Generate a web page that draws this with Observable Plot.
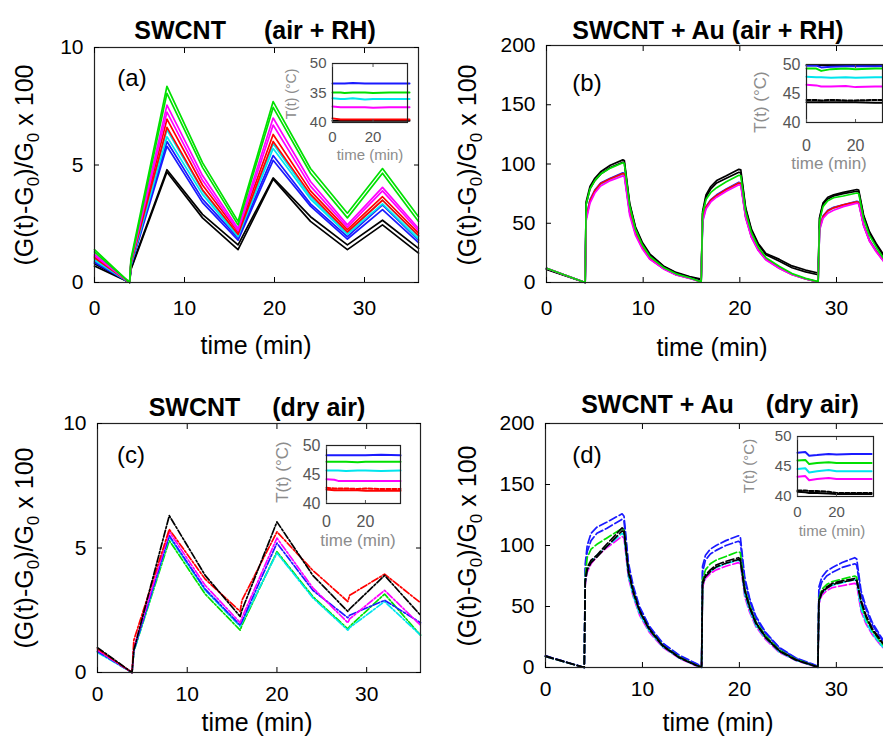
<!DOCTYPE html>
<html><head><meta charset="utf-8">
<script src="https://cdn.jsdelivr.net/npm/d3@7"></script>
<script src="https://cdn.jsdelivr.net/npm/@observablehq/plot@0.6"></script>
<style>
html,body{margin:0;padding:0;background:#fff;overflow:hidden;width:883px;height:745px;}
#root{position:relative;width:883px;height:745px;overflow:hidden;font-family:Arial,"Liberation Sans",sans-serif;color:#000;}
.lbl{position:absolute;white-space:pre;line-height:1;}
sub{font-size:0.68em;vertical-align:-0.3em;}
</style></head><body><div id="root"></div><script>
// ---------- tick values ----------
const xTicks = [0, 10, 20, 30];
const yTicksSmall = [0, 5, 10];
const yTicksLarge = [0, 50, 100, 150, 200];
const insetXTicks = [0, 20];
const insetYTicks = [40, 45, 50];
const insetYLabelsA = ["40", "35", "50"];
const insetYLabels = ["40", "45", "50"];

// ---------- titles ----------
const titleLeft = ["SWCNT", "SWCNT + Au", "SWCNT", "SWCNT + Au"];
const titleRight = ["(air + RH)", "(air + RH)", "(dry air)", "(dry air)"];
const panelLetters = ["(a)", "(b)", "(c)", "(d)"];

// ---------- panel (a) ----------
const timesA = [0, 3.9, 4.05, 8.05, 12, 15.95, 19.85, 24, 28.1, 32, 36];
const aGreen1 = [1.40, 0, 1.00, 8.35, 5.10, 2.60, 7.70, 4.85, 2.95, 4.85, 2.80];
const aGreen2 = [1.30, 0, 0.90, 8.05, 4.90, 2.45, 7.45, 4.65, 2.75, 4.65, 2.60];
const aMagenta1 = [1.20, 0, 0.90, 7.55, 4.55, 2.30, 7.00, 4.30, 2.45, 4.05, 2.30];
const aMagenta2 = [1.15, 0, 0.85, 7.25, 4.35, 2.20, 6.70, 4.10, 2.35, 3.90, 2.20];
const aRed1 = [1.10, 0, 0.85, 6.95, 4.15, 2.15, 6.30, 3.90, 2.25, 3.65, 2.10];
const aRed2 = [1.05, 0, 0.80, 6.60, 3.95, 2.05, 6.00, 3.75, 2.15, 3.50, 2.00];
const aCyan1 = [1.00, 0, 0.80, 6.50, 3.90, 2.00, 5.90, 3.65, 2.10, 3.50, 1.95];
const aCyan2 = [0.95, 0, 0.75, 6.20, 3.75, 1.95, 5.70, 3.55, 2.05, 3.35, 1.85];
const aBlue1 = [0.90, 0, 0.75, 6.00, 3.55, 1.90, 5.40, 3.35, 1.95, 3.30, 1.80];
const aBlue2 = [0.85, 0, 0.70, 5.80, 3.40, 1.80, 5.20, 3.25, 1.85, 3.10, 1.70];
const aBlack1 = [0.80, 0, 0.60, 4.80, 2.90, 1.60, 4.45, 2.80, 1.60, 2.65, 1.45];
const aBlack2 = [0.70, 0, 0.55, 4.70, 2.75, 1.40, 4.40, 2.60, 1.40, 2.45, 1.25];

// ---------- panel (b) ----------
const timesB = [0, 4.0, 4.1, 4.5, 5, 5.6, 6.6, 7.9, 8.05, 8.6, 9.2, 9.9, 10.7, 12.1, 13.4, 14.8, 16.0,
  16.15, 16.5, 17, 17.6, 18.6, 19.9, 20.1, 20.6, 21.2, 21.9, 22.7, 24.1, 25.4, 26.8, 28.1,
  28.25, 28.6, 29.1, 29.7, 30.7, 32.1, 32.3, 32.8, 33.4, 34.1, 34.9, 36];
const bBlack1 = [11.5, 0, 68, 81, 88, 93.5, 99, 103.5, 103, 67, 47, 34, 24, 14, 8.5, 5, 2.8,
  60, 74, 81, 86, 90, 95.5, 95, 63, 45, 33, 24.5, 19.5, 14, 10.5, 8,
  55, 67, 72, 74, 76, 78.5, 78, 57, 43, 33, 23, 16];
const bBlack2 = [11, 0, 66, 79, 86, 91.5, 97, 101.5, 101, 66, 46, 33, 23, 13.5, 8, 4.5, 2,
  58, 72, 79, 84, 88, 93, 92.5, 62, 44, 32, 23.5, 18, 12.5, 9, 6.5,
  54, 66, 70.5, 73, 75, 77, 76.5, 56, 42, 32, 22, 15];
const bBlue = [12, 0, 55, 70, 78, 84, 88, 92.5, 92, 60, 42, 30, 20.5, 12, 6.8, 3.8, 0.8,
  53, 64, 70, 74, 79, 84.5, 84, 56, 39, 28, 20, 12.5, 7, 3.2, 0.5,
  46, 56, 61, 63.5, 65.5, 68.5, 68, 49, 36, 27, 18.5, 11];
const bCyan = [12, 0, 54, 69, 77, 83, 87, 91.5, 91, 59, 41.5, 29.5, 20, 11.8, 6.6, 3.6, 0.6,
  52, 63, 69, 73, 78, 84, 83.5, 55.5, 38.5, 27.5, 19.5, 12, 6.8, 3, 0.4,
  45, 55, 60, 63, 65, 68, 67.5, 48.5, 35.5, 26.5, 18, 10.5];
const bRed = [12, 0, 54, 69, 77.5, 83.5, 87.5, 92, 91.5, 59.5, 41.5, 29.5, 20, 11.8, 6.6, 3.6, 0.6,
  54, 63.5, 69.5, 73.5, 78.5, 84, 83.5, 55.5, 38.5, 27.5, 19.5, 12, 6.8, 3, 0.4,
  45.5, 55.5, 60.5, 63, 65.5, 68, 67.5, 48.5, 35.5, 26.5, 18, 10.5];
const bMagenta = [12, 0, 52, 67, 75.5, 81.5, 86, 90, 89.5, 57, 40, 28.5, 19.5, 11.5, 6.4, 3.4, 0.5,
  51, 62, 68, 72, 77, 82.5, 82, 54.5, 38, 27, 19, 11.8, 6.6, 3, 0.4,
  44, 54, 58.5, 61, 64, 67, 66.5, 48, 35, 26, 17.5, 10];
const bGreen = [12, 0, 66, 79, 86, 91.5, 96.5, 101, 100.5, 65, 45, 32, 22, 12.7, 7.3, 4, 0.5,
  58, 70, 76, 80, 85, 90.5, 90, 60, 42, 30, 21, 13.5, 7.5, 3.5, 0.8,
  52, 64, 69, 71.5, 73, 75.5, 75, 54, 40, 30, 20, 12];

// ---------- panel (c) ----------
const timesC = [0, 3.85, 4.05, 8, 12, 15.9, 16.1, 20, 24, 27.9, 28.1, 32, 36];
const cGreen = [0.85, 0, 0.85, 5.30, 3.15, 1.70, 1.90, 4.85, 3.05, 1.75, 1.85, 3.15, 1.50];
const cCyan = [0.80, 0, 0.85, 5.45, 3.30, 1.85, 2.00, 4.80, 3.00, 1.70, 1.80, 2.85, 1.50];
const cBlue = [0.85, 0, 0.90, 5.50, 3.35, 1.90, 2.05, 5.20, 3.30, 2.20, 2.30, 2.90, 2.00];
const cMagenta = [0.90, 0, 1.00, 5.65, 3.50, 2.00, 2.20, 5.40, 3.40, 2.00, 2.15, 3.30, 1.90];
const cRed = [0.95, 0, 1.30, 5.75, 3.75, 2.45, 2.90, 5.65, 4.10, 2.85, 3.10, 3.95, 2.80];
const cBlack = [1.00, 0, 0.90, 6.30, 3.90, 2.25, 2.50, 6.05, 3.90, 2.45, 2.55, 3.90, 2.30];

// ---------- panel (d) ----------
const timesD = [0, 4.0, 4.1, 4.3, 4.7, 5.3, 6.3, 7.9, 8.1, 8.55, 9.05, 9.7, 10.7, 12.1, 13.8, 15.5, 16.1,
  16.2, 16.5, 17, 17.6, 18.6, 19.9, 20.1, 20.55, 21.05, 21.7, 22.7, 24.1, 25.8, 27.5, 28.1,
  28.2, 28.5, 29, 29.6, 30.6, 31.9, 32.1, 32.55, 33.05, 33.7, 34.7, 36];
const dBlue1 = [9.5, 0, 85, 100, 110, 115, 119, 126, 124, 86, 67, 50, 34, 20, 10, 3.5, 1,
  83, 92, 97, 100, 104, 108, 107, 74, 57, 42, 29, 16.5, 8, 3, 1,
  66, 74, 79, 82, 86, 90, 89, 63, 50, 37, 24, 14];
const dBlue2 = [9.5, 0, 80, 95, 104, 110, 114, 121.5, 120, 83, 65, 48.5, 33, 19.5, 9.5, 3, 0.8,
  78, 88, 93, 96, 100, 103.5, 102.5, 71, 55, 40.5, 28, 16, 7.5, 2.5, 0.8,
  62, 70, 75, 78, 82, 85, 84, 60, 48, 35, 23, 13];
const dMagenta = [9, 0, 68, 78, 85, 91, 98, 107.5, 106, 74, 58, 43, 29, 16.5, 7.5, 1.5, 0,
  66, 73, 77, 80, 83, 86, 85, 58, 45.5, 33.5, 23, 12.5, 5.8, 1.5, 0,
  52, 59, 63, 65.5, 67, 69, 68, 46, 36, 27, 17, 9.5];
const dCyan = [9, 0, 70, 80, 87, 92, 99, 110, 108.5, 75, 59, 44, 30, 17, 7.8, 1.7, 0,
  68, 75, 79, 82, 85, 88, 87, 60, 47, 34.5, 24, 13, 6, 1.7, 0,
  53, 61, 65, 67.5, 69.5, 72, 71, 48, 37.5, 28, 17.5, 10];
const dGreen = [9, 0, 75, 90, 97, 101, 106, 114, 112.5, 79, 62, 46, 31.5, 18, 8.5, 2, 0.3,
  72, 80, 85, 88, 91, 95, 94, 65, 51, 37.5, 26, 14.5, 6.8, 2, 0.3,
  56, 64, 68, 70.5, 72.5, 75, 74, 51, 40, 30, 19, 11];
const dBlack1 = [9.5, 0, 72, 82, 88, 92, 101, 114.5, 113, 80, 63, 47, 32, 18, 8.4, 2, 0.3,
  70, 76, 80, 84, 87, 90, 89, 64, 50, 37, 25, 14, 6.5, 2, 0.3,
  55, 62, 66, 69, 71, 73, 72, 55, 43, 32, 21, 12];
const dBlack2 = [9, 0, 70, 80, 86, 90.5, 99, 112, 111, 78, 61.5, 46, 31, 17.5, 8, 1.8, 0.2,
  68, 74.5, 78.5, 82.5, 85.5, 88.5, 87.5, 62.5, 49, 36, 24.5, 13.5, 6.2, 1.8, 0.2,
  54, 61, 65, 68, 70, 72, 71, 54, 42, 31, 20.5, 11.5];

// ---------- insets: temperature T(t) ----------
const insetTimes = [0, 4, 6, 10, 16, 20, 28, 38];
const iaBlue = [46.6, 46.6, 46.6, 46.7, 46.6, 46.6, 46.6, 46.6];
const iaGreen = [45.1, 45.1, 45.0, 45.1, 45.1, 45.0, 45.1, 45.1];
const iaCyan = [44.1, 44.0, 44.0, 44.1, 43.9, 44.0, 44.0, 44.0];
const iaMagenta = [42.7, 42.6, 42.6, 42.6, 42.6, 42.5, 42.6, 42.6];
const iaRed = [40.7, 40.5, 40.5, 40.5, 40.5, 40.5, 40.5, 40.5];
const iaBlack = [40.3, 40.3, 40.3, 40.3, 40.3, 40.3, 40.3, 40.3];

const ibBlack1 = [49.9, 49.9, 49.9, 49.9, 49.9, 49.9, 49.9, 49.9];
const ibBlue = [49.8, 49.8, 49.5, 49.6, 49.7, 49.7, 49.7, 49.8];
const ibGreen = [49.3, 49.3, 48.9, 49.2, 49.3, 49.2, 49.3, 49.3];
const ibCyan = [47.9, 47.8, 47.8, 47.7, 47.8, 47.7, 47.8, 47.8];
const ibMagenta = [46.5, 46.4, 46.2, 46.2, 46.3, 46.1, 46.2, 46.2];
const ibBlack2 = [43.9, 43.9, 43.8, 43.9, 43.8, 43.8, 43.9, 43.8];
const ibBlack3 = [43.5, 43.5, 43.5, 43.5, 43.5, 43.5, 43.4, 43.4];

const icBlue = [48.3, 48.3, 48.3, 48.3, 48.3, 48.3, 48.4, 48.3];
const icGreen = [47.2, 47.2, 47.2, 47.2, 47.1, 47.2, 47.2, 47.2];
const icCyan = [45.7, 45.7, 45.7, 45.6, 45.7, 45.7, 45.6, 45.7];
const icMagenta = [44.2, 44.1, 43.9, 43.9, 43.9, 43.9, 43.9, 43.9];
const icRed1 = [42.7, 42.6, 42.6, 42.6, 42.5, 42.6, 42.5, 42.5];
const icRed2 = [42.4, 42.3, 42.3, 42.3, 42.3, 42.2, 42.2, 42.2];

const idBlue = [47.3, 47.4, 46.8, 46.9, 47.1, 47.0, 47.1, 47.1];
const idGreen = [46.0, 46.1, 45.4, 45.6, 45.7, 45.6, 45.6, 45.6];
const idCyan = [44.6, 44.7, 44.0, 44.2, 44.4, 44.2, 44.2, 44.2];
const idMagenta = [43.3, 43.4, 42.7, 42.9, 43.1, 42.9, 42.9, 42.9];
const idBlack1 = [41.0, 41.0, 40.9, 40.9, 40.8, 40.6, 40.6, 40.6];
const idBlack2 = [40.8, 40.7, 40.6, 40.6, 40.5, 40.4, 40.4, 40.4];

// ---------- colours ----------
const C = {k: "#000000", b: "#1a1aff", g: "#00e000", c: "#00e5ee", m: "#ff00ff", r: "#ff0000"};
const FONT = 'Arial, "Liberation Sans", sans-serif';
const root = document.getElementById("root");

function place(node, left, top) {
  node.style.position = "absolute";
  node.style.left = left + "px";
  node.style.top = top + "px";
  root.appendChild(node);
}
function label(html, cx, cy, opts = {}) {
  const d = document.createElement("div");
  d.className = "lbl";
  d.innerHTML = html;
  d.style.left = cx + "px";
  d.style.top = cy + "px";
  d.style.fontSize = (opts.size || 25) + "px";
  if (opts.bold) d.style.fontWeight = "bold";
  if (opts.color) d.style.color = opts.color;
  d.style.transform = "translate(-50%,-50%)" + (opts.rotate ? " rotate(-90deg)" : "");
  root.appendChild(d);
}
function lineMarks(times, series, width, dash) {
  return series.map(s => Plot.line(times.map((t, j) => ({t, v: s.values[j]})),
    {x: "t", y: "v", stroke: s.color, strokeWidth: width, strokeDasharray: s.dash || dash}));
}

function mainPanel(o) {
  return Plot.plot({
    width: o.width, height: o.height,
    marginTop: o.mt, marginBottom: o.mb, marginLeft: o.ml, marginRight: o.mr,
    x: {domain: [0, 36]}, y: {domain: o.yDomain},
    style: {fontFamily: FONT, fontSize: "21px", color: "#000", background: "transparent", overflow: "visible"},
    marks: [
      ...lineMarks(o.times, o.series, 1.7, o.dash),
      Plot.frame({stroke: "#222", strokeWidth: 1.2}),
      Plot.axisX(xTicks, {anchor: "bottom", tickSize: 0, tickPadding: o.xPad, fontSize: 21, label: null}),
      Plot.axisX(xTicks, {anchor: "bottom", tickSize: -5, tickFormat: () => "", label: null}),
      Plot.axisX(xTicks, {anchor: "top", tickSize: -5, tickFormat: () => "", label: null}),
      Plot.axisY(o.yTicks, {anchor: "left", tickSize: 0, tickPadding: 11, fontSize: 21, label: null}),
      Plot.axisY(o.yTicks, {anchor: "left", tickSize: -5, tickFormat: () => "", label: null}),
      Plot.axisY(o.yTicks, {anchor: "right", tickSize: -5, tickFormat: () => "", label: null})
    ]
  });
}

function insetPanel(o) {
  return Plot.plot({
    width: 45 + o.fw + 4, height: 6 + o.fh + 30,
    marginTop: 6, marginBottom: 30, marginLeft: 45, marginRight: 4,
    x: {domain: [0, o.xMax]}, y: {domain: [40, 50]},
    style: {fontFamily: FONT, fontSize: "15px", color: "#555", background: "transparent", overflow: "visible"},
    marks: [
      Plot.frame({fill: "white", stroke: "none"}),
      ...lineMarks(insetTimes, o.series, 2, o.dash),
      Plot.frame({stroke: "#222", strokeWidth: 1.2}),
      Plot.axisX(insetXTicks, {anchor: "bottom", tickSize: 0, tickPadding: o.xPad, fontSize: o.tickFont, label: null}),
      Plot.axisX(insetXTicks, {anchor: "bottom", tickSize: -3, tickFormat: () => "", label: null}),
      Plot.axisX(insetXTicks, {anchor: "top", tickSize: -3, tickFormat: () => "", label: null}),
      Plot.axisY(insetYTicks, {anchor: "left", tickSize: 0, tickPadding: 6, fontSize: o.tickFont, label: null,
        tickFormat: v => o.yLabels[insetYTicks.indexOf(v)]})
    ]
  });
}

// ---------- main panels ----------
place(mainPanel({width: 430, height: 330, mt: 47, mb: 48, ml: 94, mr: 12, yDomain: [0, 10], yTicks: yTicksSmall, xPad: 18,
  times: timesA, series: [
    {values: aBlack1, color: C.k}, {values: aBlack2, color: C.k},
    {values: aBlue1, color: C.b}, {values: aBlue2, color: C.b},
    {values: aCyan1, color: C.c}, {values: aCyan2, color: C.c},
    {values: aRed1, color: C.r}, {values: aRed2, color: C.r},
    {values: aMagenta1, color: C.m}, {values: aMagenta2, color: C.m},
    {values: aGreen1, color: C.g}, {values: aGreen2, color: C.g}]}), 0, 0);

place(mainPanel({width: 460, height: 330, mt: 45, mb: 48, ml: 106, mr: 6, yDomain: [0, 200], yTicks: yTicksLarge, xPad: 18,
  times: timesB, series: [
    {values: bBlack1, color: C.k}, {values: bBlack2, color: C.k},
    {values: bBlue, color: C.b}, {values: bCyan, color: C.c},
    {values: bRed, color: C.r}, {values: bMagenta, color: C.m},
    {values: bGreen, color: C.g}]}), 440, 0);

place(mainPanel({width: 430, height: 330, mt: 48, mb: 33, ml: 97, mr: 10, yDomain: [0, 10], yTicks: yTicksSmall, xPad: 14,
  dash: "7,2,2,2",
  times: timesC, series: [
    {values: cGreen, color: C.g}, {values: cCyan, color: C.c},
    {values: cBlue, color: C.b}, {values: cMagenta, color: C.m},
    {values: cRed, color: C.r}, {values: cBlack, color: C.k}]}), 0, 375);

place(mainPanel({width: 460, height: 330, mt: 48, mb: 38, ml: 105, mr: 6, yDomain: [0, 200], yTicks: yTicksLarge, xPad: 14,
  dash: "8,3",
  times: timesD, series: [
    {values: dBlue1, color: C.b}, {values: dBlue2, color: C.b},
    {values: dGreen, color: C.g}, {values: dMagenta, color: C.m},
    {values: dCyan, color: C.c}, {values: dBlack2, color: C.k},
    {values: dBlack1, color: C.k}]}), 440, 375);

// ---------- insets ----------
place(insetPanel({fw: 75, fh: 59, xMax: 37, xPad: 9, tickFont: 15, yLabels: insetYLabelsA,
  series: [{values: iaBlack, color: C.k}, {values: iaRed, color: C.r}, {values: iaMagenta, color: C.m},
    {values: iaCyan, color: C.c}, {values: iaGreen, color: C.g}, {values: iaBlue, color: C.b}]}), 332 - 45, 63 - 6);

place(insetPanel({fw: 76, fh: 58, xMax: 31, xPad: 17, tickFont: 16, yLabels: insetYLabels,
  series: [{values: ibBlack2, color: C.k, dash: "4,2"}, {values: ibBlack3, color: C.k}, {values: ibMagenta, color: C.m},
    {values: ibCyan, color: C.c}, {values: ibBlack1, color: C.k}, {values: ibBlue, color: C.b}, {values: ibGreen, color: C.g}]}), 806 - 45, 64 - 6);

place(insetPanel({fw: 74, fh: 58, xMax: 38, xPad: 12, tickFont: 16, yLabels: insetYLabels,
  series: [{values: icRed1, color: C.r, dash: "4,2"}, {values: icRed2, color: C.r}, {values: icMagenta, color: C.m},
    {values: icCyan, color: C.c}, {values: icGreen, color: C.g}, {values: icBlue, color: C.b}]}), 326 - 45, 445 - 6);

place(insetPanel({fw: 76, fh: 60, xMax: 39, xPad: 10, tickFont: 15, yLabels: insetYLabels,
  series: [{values: idBlack1, color: C.k, dash: "4,2"}, {values: idBlack2, color: C.k}, {values: idMagenta, color: C.m},
    {values: idCyan, color: C.c}, {values: idGreen, color: C.g}, {values: idBlue, color: C.b}]}), 797 - 45, 436 - 6);

// ---------- text ----------
const yLab = "(G(t)-G<sub>0</sub>)/G<sub>0</sub> x 100";
const titleGaps = [38, 7, 32, 32];
const titlePos = [[255, 30], [708, 30], [257, 407], [720, 404]];
titlePos.forEach(([x, y], i) => label(`${titleLeft[i]}<span style="margin-left:${titleGaps[i]}px">${titleRight[i]}</span>`, x, y, {size: 25, bold: true}));
[[132, 78], [587, 83], [131, 455], [587, 455]].forEach(([x, y], i) => label(panelLetters[i], x, y, {size: 24}));
[[27, 165], [470, 165], [27, 548], [470, 546]].forEach(([x, y]) => label(yLab, x, y, {size: 25, rotate: true}));
[[256, 345], [712, 347], [257, 722], [718, 722]].forEach(([x, y]) => label("time (min)", x, y, {size: 25}));
// inset labels
const gray = "#8c8c8c";
[[291, 94, 14], [760, 102, 17], [282, 472, 17], [748, 466, 15]].forEach(([x, y, s]) => label("T(t) (°C)", x, y, {size: s, rotate: true, color: gray}));
[[370, 154, 15], [829, 163, 17], [358, 540, 17], [832, 530, 15]].forEach(([x, y, s]) => label("time (min)", x, y, {size: s, color: gray}));
</script></body></html>
